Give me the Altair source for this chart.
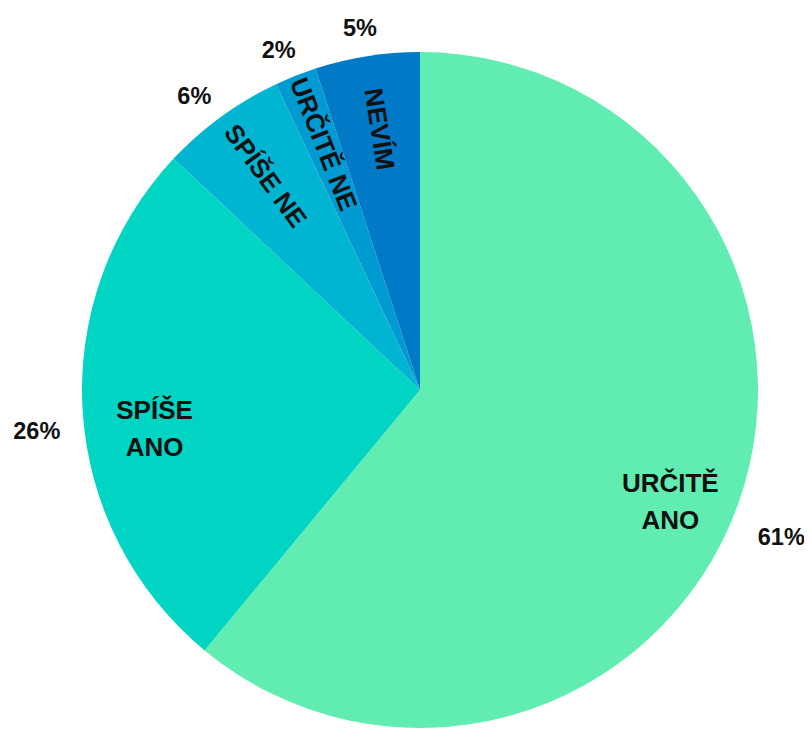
import altair as alt
import pandas as pd

categories = ["URČITĚ ANO", "SPÍŠE ANO", "SPÍŠE NE", "URČITĚ NE", "NEVÍM"]
values = [61, 26, 6, 2, 5]
colors = ["#61EDB2", "#00D5C3", "#00B5D1", "#009AD2", "#0079C6"]

df = pd.DataFrame({
    "category": categories,
    "value": values,
    "order": list(range(len(categories))),
})

FONT = "Liberation Sans"
cx = alt.value(412)
cy = alt.value(382)

base = alt.Chart(df).encode(
    theta=alt.Theta("value:Q", stack=True),
    order=alt.Order("order:Q"),
)

arcs = base.mark_arc(radius=338).encode(
    color=alt.Color("category:N", scale=alt.Scale(domain=categories, range=colors), legend=None),
    x=cx, y=cy,
)

big = base.transform_calculate(
    lines="datum.value >= 10 ? split(datum.category, ' ') : ''"
).mark_text(
    radius=266, dy=4, font=FONT, fontSize=26, fontWeight="bold", lineHeight=37,
    baseline="middle", align="center", color="#111111",
).encode(text=alt.Text("lines:N"), x=cx, y=cy)

small = base.transform_joinaggregate(
    total="sum(value)"
).transform_window(
    cum="sum(value)", sort=[alt.SortField("order")], frame=[None, 0]
).transform_calculate(
    lbl="datum.value < 10 ? datum.category : ''",
    ang="((datum.cum - datum.value / 2) / datum.total * 360 + 90) % 360",
).mark_text(
    radius=264, font=FONT, fontSize=26, fontWeight="bold",
    baseline="middle", align="center", color="#111111",
).encode(text=alt.Text("lbl:N"), angle=alt.Angle("ang:Q", scale=None), x=cx, y=cy)

pct = base.transform_calculate(
    pct="datum.value + '%'"
).mark_text(
    radius=384, dy=18, font=FONT, fontSize=23.5, fontWeight="bold",
    baseline="middle", align="center", color="#111111",
).encode(text=alt.Text("pct:N"), x=cx, y=cy)

chart = alt.layer(arcs, big, small, pct).properties(
    width=796, height=721, padding=0, autosize=alt.AutoSizeParams(type="none")
).configure_view(stroke=None)

chart.save("out.html", embed_options={"renderer": "svg", "actions": False})
